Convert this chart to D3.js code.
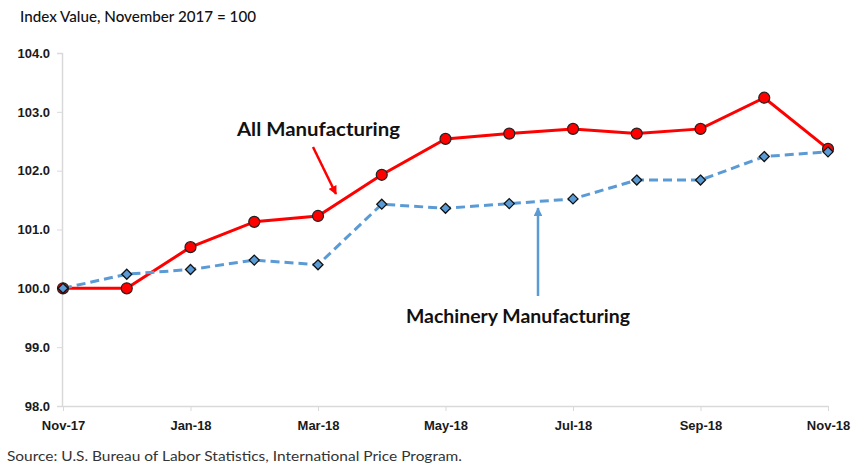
<!DOCTYPE html>
<html><head><meta charset="utf-8">
<script src="https://cdn.jsdelivr.net/npm/d3@7"></script>
<style>
body{margin:0;background:#fff;}
svg{display:block;font-family:Lato,"Open Sans",sans-serif;}
</style></head>
<body><svg id="c" width="851" height="466"></svg>
<script>
const months = ["Nov-17","Dec-17","Jan-18","Feb-18","Mar-18","Apr-18","May-18","Jun-18","Jul-18","Aug-18","Sep-18","Oct-18","Nov-18"];
const tickLabels = ["Nov-17","Jan-18","Mar-18","May-18","Jul-18","Sep-18","Nov-18"];
const allManufacturing = [100.0,100.0,100.7,101.13,101.23,101.93,102.54,102.63,102.71,102.63,102.71,103.24,102.37];
const machineryManufacturing = [100.0,100.24,100.32,100.48,100.4,101.43,101.36,101.44,101.52,101.84,101.84,102.24,102.32];
const yTicks = [98,99,100,101,102,103,104];

const svg = d3.select("#c");
const x = d3.scalePoint().domain(months).range([63,828]);
const y = d3.scaleLinear().domain([98,104]).range([406,53]);

// y axis
const yAxis = svg.append("g").attr("transform","translate(62,0)")
  .call(d3.axisLeft(y).tickValues(yTicks).tickFormat(d3.format(".1f")).tickSize(5).tickPadding(7));
yAxis.select(".domain").attr("stroke","#d9d9d9").attr("stroke-width",1.5);
yAxis.selectAll(".tick line").attr("stroke","#d9d9d9");
yAxis.selectAll("text").attr("font-size",13).attr("font-weight","bold").attr("fill","#1a1a1a");

// x axis
const xAxis = svg.append("g").attr("transform","translate(0,406)")
  .call(d3.axisBottom(x).tickValues(tickLabels).tickSize(5).tickPadding(10).tickSizeOuter(0));
xAxis.select(".domain").attr("stroke","#d9d9d9").attr("stroke-width",1.5);
xAxis.selectAll(".tick line").attr("stroke","#d9d9d9");
xAxis.selectAll("text").attr("font-size",13).attr("font-weight","bold").attr("fill","#1a1a1a");

// lines
const line = d3.line().x((d,i)=>x(months[i])).y(d=>y(d));
svg.append("path").datum(allManufacturing).attr("d",line).attr("fill","none")
  .attr("stroke","#ff0000").attr("stroke-width",3);
svg.append("path").datum(machineryManufacturing).attr("d",line).attr("fill","none")
  .attr("stroke","#5b9bd5").attr("stroke-width",3).attr("stroke-dasharray","9,5");

svg.selectAll(".m1").data(allManufacturing).enter().append("circle")
  .attr("cx",(d,i)=>x(months[i])).attr("cy",d=>y(d)).attr("r",5.5)
  .attr("fill","#ff0000").attr("stroke","#222").attr("stroke-width",1.2);
svg.selectAll(".m2").data(machineryManufacturing).enter().append("path")
  .attr("d","M0,-5L5,0L0,5L-5,0Z")
  .attr("transform",(d,i)=>`translate(${x(months[i])},${y(d)})`)
  .attr("fill","#5b9bd5").attr("stroke","#111").attr("stroke-width",1.3);

// arrows
const defs = svg.append("defs");
function marker(id,color){
  defs.append("marker").attr("id",id).attr("viewBox","0 0 10 10").attr("refX",9).attr("refY",5)
    .attr("markerWidth",3.5).attr("markerHeight",3.5).attr("orient","auto")
    .append("path").attr("d","M0,0 L10,5 L0,10 z").attr("fill",color);
}
marker("ar","#ff0000"); marker("ab","#5b9bd5");
svg.append("line").attr("x1",313).attr("y1",147).attr("x2",336).attr("y2",194)
  .attr("stroke","#ff0000").attr("stroke-width",2.5).attr("marker-end","url(#ar)");
svg.append("line").attr("x1",538).attr("y1",296).attr("x2",538).attr("y2",208)
  .attr("stroke","#5b9bd5").attr("stroke-width",2.5).attr("marker-end","url(#ab)");

svg.append("text").attr("x",237).attr("y",136).attr("font-size",19.5).attr("font-weight","bold")
  .attr("fill","#111").attr("textLength",163).attr("lengthAdjust","spacingAndGlyphs").text("All Manufacturing");
svg.append("text").attr("x",406).attr("y",323).attr("font-size",19.5).attr("font-weight","bold")
  .attr("fill","#111").attr("textLength",224).attr("lengthAdjust","spacingAndGlyphs").text("Machinery Manufacturing");

svg.append("text").attr("x",20).attr("y",22).attr("font-size",14.5).attr("fill","#111").attr("font-weight",500)
  .attr("textLength",236).attr("lengthAdjust","spacingAndGlyphs")
  .text("Index Value, November 2017 = 100");
svg.append("text").attr("x",7).attr("y",461).attr("font-size",13).attr("fill","#333")
  .attr("textLength",455).attr("lengthAdjust","spacingAndGlyphs")
  .text("Source: U.S. Bureau of Labor Statistics, International Price Program.");
</script></body></html>
